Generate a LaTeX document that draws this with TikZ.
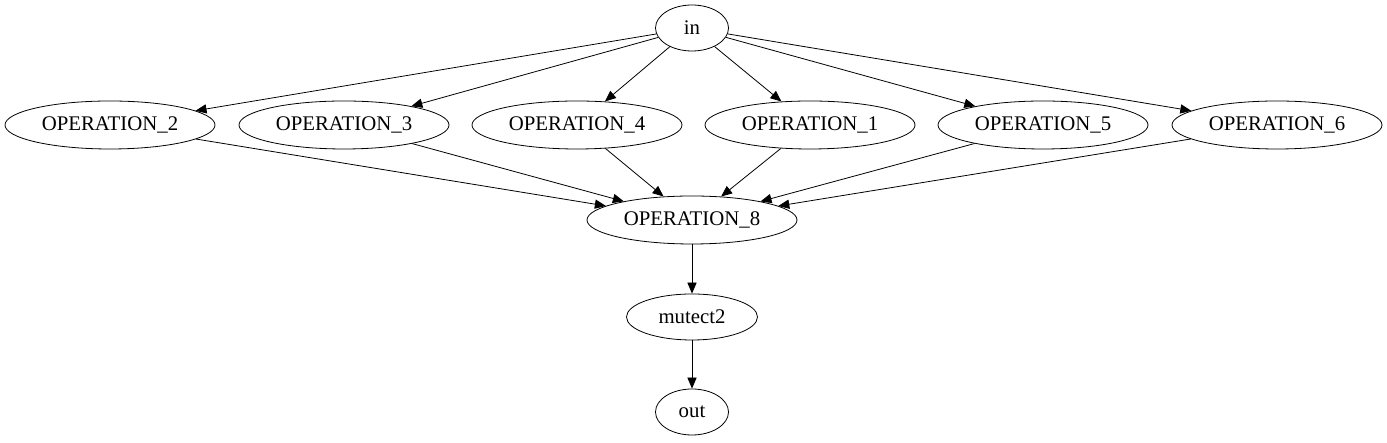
\documentclass[tikz,border=0pt]{standalone}
\usepackage{fontspec}
\setmainfont{Liberation Serif}
\usetikzlibrary{arrows.meta,shapes.geometric}
\begin{document}
\begin{tikzpicture}[x=0.5pt,y=0.5pt,
  op/.style={draw,ellipse,inner sep=0pt,minimum width=105pt,minimum height=24pt,font=\fontsize{10.4}{12}\selectfont},
  io/.style={op,minimum width=36.5pt,minimum height=23pt},
  edge/.style={-{Triangle[length=5.5pt,width=4.6pt]}}]
\useasboundingbox (0,0) rectangle (1387,443);
% nodes
\node[io] (in) at (692,415) {in};
\node[op] (op2) at (110,318) {OPERATION\_2};
\node[op] (op3) at (344,318) {OPERATION\_3};
\node[op] (op4) at (577,318) {OPERATION\_4};
\node[op] (op1) at (810,318) {OPERATION\_1};
\node[op] (op5) at (1043,318) {OPERATION\_5};
\node[op] (op6) at (1277,318) {OPERATION\_6};
\node[op] (op8) at (692,223) {OPERATION\_8};
\node[op,minimum width=65.5pt,minimum height=23pt] (mutect) at (692,126) {mutect2};
\node[io] (out) at (692,31) {out};
% edges
\foreach \o in {op2,op3,op4,op1,op5,op6}{
  \draw[edge] (in) -- (\o);
  \draw[edge] (\o) -- (op8);
}
\draw[edge] (op8) -- (mutect);
\draw[edge] (mutect) -- (out);
\end{tikzpicture}
\end{document}
